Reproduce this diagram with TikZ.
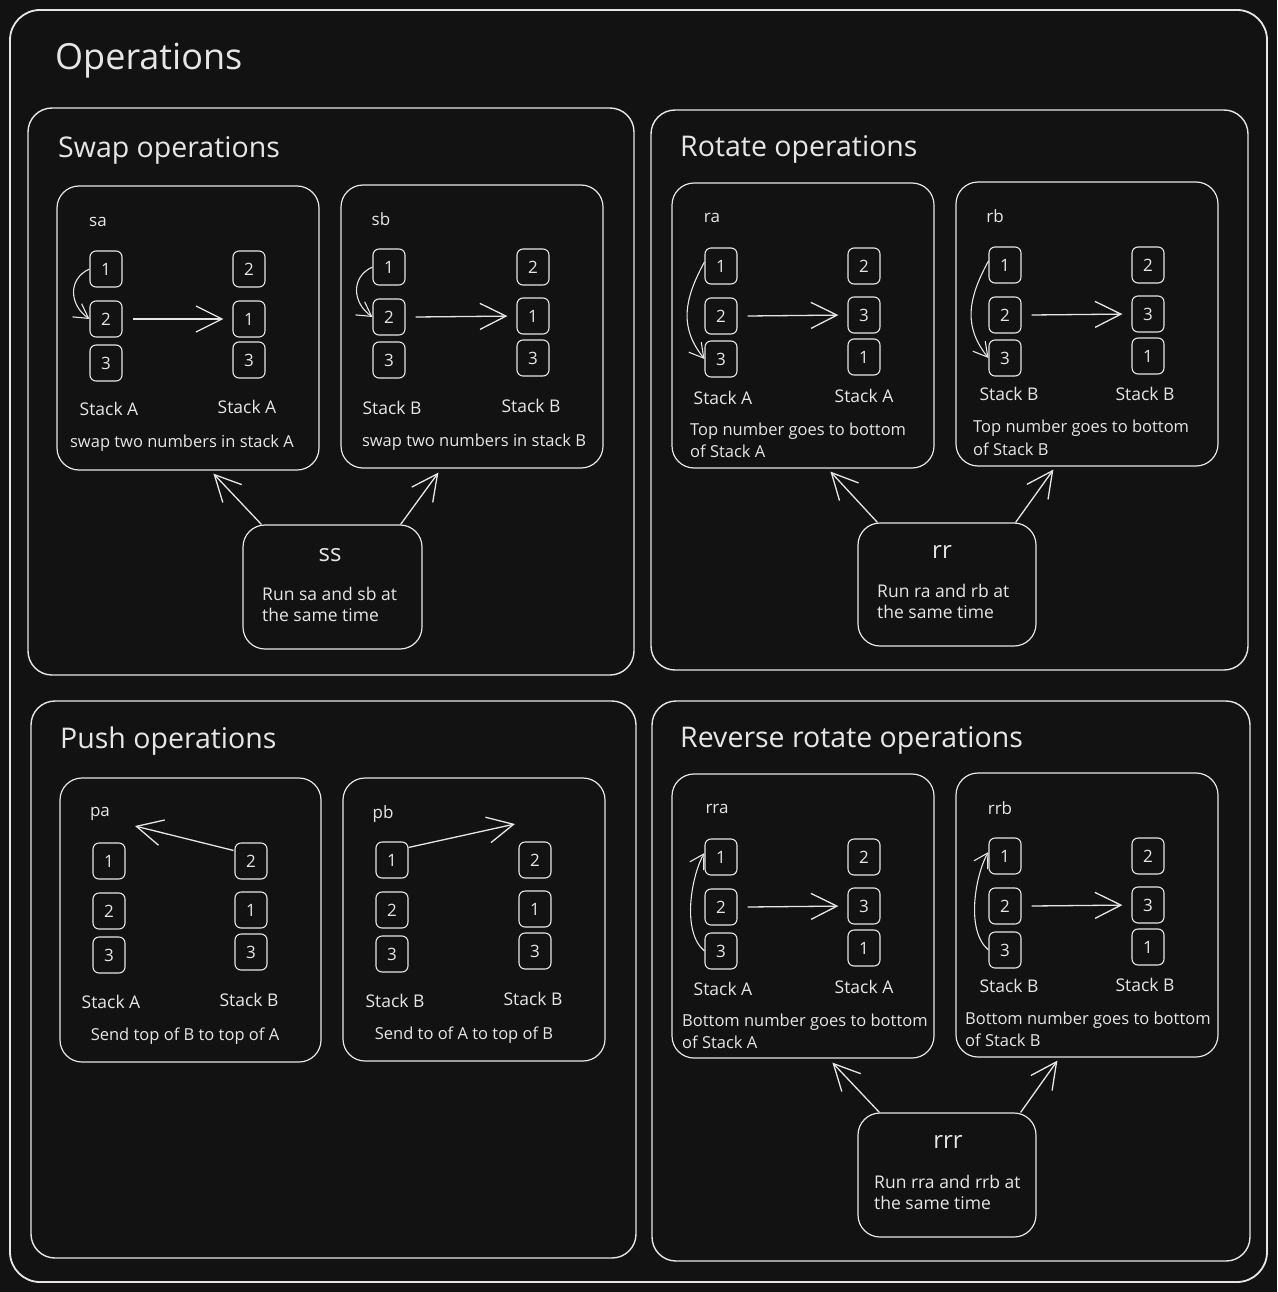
\documentclass[tikz,border=0pt]{standalone}
\usepackage{fontspec}
\setmainfont{Open Sans}
\usetikzlibrary{arrows.meta,calc}
\definecolor{bg}{HTML}{121212}
\definecolor{fg}{HTML}{E6E6E6}
\newcommand\mkbox[6]{\node[#6, minimum width={(#4-#2)*1pt}, minimum height={(#5-#3)*1pt}] (#1) at ({(#2+#4)/2},{(#3+#5)/2}) {};}
\newcommand\stk[4]{\node[numbox] (#1) at (#2,#3) {#4};}
\tikzset{
  frame/.style={draw=fg, line width=1.8pt, rounded corners=30pt},
  panel/.style={draw=fg, line width=1.4pt, rounded corners=24pt, inner sep=0pt},
  opbox/.style={draw=fg, line width=1.2pt, rounded corners=22pt, inner sep=0pt},
  numbox/.style={draw=fg, line width=1.1pt, rounded corners=6pt, minimum width=32pt, minimum height=36pt, inner sep=0pt, text=fg, font=\fontsize{17}{19}\selectfont},
  bigtitle/.style={anchor=west, text=fg, font=\fontsize{36}{40}\selectfont, inner sep=0pt},
  ptitle/.style={anchor=west, text=fg, font=\fontsize{28.5}{32}\selectfont, inner sep=0pt},
  lbl/.style={text=fg, font=\fontsize{16.5}{19}\selectfont, inner sep=0pt},
  stl/.style={text=fg, font=\fontsize{17.5}{20}\selectfont, inner sep=0pt},
  oplbl/.style={text=fg, font=\fontsize{17}{19}\selectfont, inner sep=0pt},
  oplarge/.style={text=fg, font=\fontsize{24}{28}\selectfont, inner sep=0pt},
  txtl/.style={anchor=west, text=fg, font=\fontsize{16.5}{19}\selectfont, inner sep=0pt},
  runl/.style={anchor=west, text=fg, font=\fontsize{17.5}{20}\selectfont, inner sep=0pt},
  arr/.style={draw=fg, line width=1.3pt, -{Straight Barb[length=26pt,width=26pt]}},
  carr/.style={draw=fg, line width=1.1pt, -{Straight Barb[length=14pt,width=16pt]}},
}
\begin{document}
\begin{tikzpicture}[x=1pt,y=-1pt]
\fill[bg] (0,0) rectangle (1277,1292);
\useasboundingbox (0,0) rectangle (1277,1292);
\draw[frame] (10,10) rectangle (1267,1282);
\node[bigtitle] (title) at (55,61) {Operations};

\mkbox{swapP}{28}{108}{634}{675}{panel}
\mkbox{rotP}{651}{110}{1248}{670}{panel}
\mkbox{pushP}{31}{701}{636}{1258}{panel}
\mkbox{revP}{652}{701}{1250}{1261}{panel}
\node[ptitle] (swapT) at (58,150) {Swap operations};
\node[ptitle] (rotT) at (680,149) {Rotate operations};
\node[ptitle] (pushT) at (60,741) {Push operations};
\node[ptitle] (revT) at (680,740) {Reverse rotate operations};

% ---------- sa
\mkbox{sa}{57}{186}{319}{470}{opbox}
\node[oplbl] (saN) at (98,222) {sa};
\stk{sa-l1}{106}{269}{1}\stk{sa-l2}{106}{319}{2}\stk{sa-l3}{106}{363}{3}
\stk{sa-r1}{249}{269}{2}\stk{sa-r2}{249}{319}{1}\stk{sa-r3}{249}{360}{3}
\node[stl] (sa-sl) at (109,409) {Stack A};
\node[stl] (sa-sr) at (247,407) {Stack A};
\node[lbl] (sa-c) at (182,443) {swap two numbers in stack A};
\draw[carr] (sa-l1.west) .. controls +(-22,10) and +(-20,-14) .. (sa-l2.west);
\draw[arr, shorten >=9pt] ([xshift=10pt]sa-l2.east) -- (sa-r2.west);

% ---------- sb
\mkbox{sb}{341}{185}{603}{468}{opbox}
\node[oplbl] (sbN) at (381,219) {sb};
\stk{sb-l1}{389}{267}{1}\stk{sb-l2}{389}{317}{2}\stk{sb-l3}{389}{360}{3}
\stk{sb-r1}{533}{267}{2}\stk{sb-r2}{533}{316}{1}\stk{sb-r3}{533}{358}{3}
\node[stl] (sb-sl) at (392,408) {Stack B};
\node[stl] (sb-sr) at (531,406) {Stack B};
\node[lbl] (sb-c) at (474,442) {swap two numbers in stack B};
\draw[carr] (sb-l1.west) .. controls +(-22,10) and +(-20,-14) .. (sb-l2.west);
\draw[arr, shorten >=9pt] ([xshift=10pt]sb-l2.east) -- (sb-r2.west);

% ---------- ss
\mkbox{ss}{243}{525}{422}{649}{opbox}
\node[oplarge] (ssN) at (330,555) {ss};
\node[runl] (ss-t1) at (262,594) {Run sa and sb at};
\node[runl] (ss-t2) at (262,615) {the same time};
\draw[arr] ([xshift=19pt]ss.north west) -- ([xshift=157pt,yshift=-3pt]sa.south west);
\draw[arr] ([xshift=-22pt]ss.north east) -- ([xshift=98pt,yshift=-4pt]sb.south west);

% ---------- ra
\mkbox{ra}{672}{183}{934}{468}{opbox}
\node[oplbl] (raN) at (712,218) {ra};
\stk{ra-l1}{721}{266}{1}\stk{ra-l2}{721}{316}{2}\stk{ra-l3}{721}{359}{3}
\stk{ra-r1}{864}{266}{2}\stk{ra-r2}{864}{315}{3}\stk{ra-r3}{864}{357}{1}
\node[stl] (ra-sl) at (723,398) {Stack A};
\node[stl] (ra-sr) at (864,396) {Stack A};
\node[txtl] (ra-c1) at (690,431) {Top number goes to bottom};
\node[txtl] (ra-c2) at (690,451) {of Stack A};
\draw[carr] ([yshift=4pt]ra-l1.west) .. controls +(-22,40) and +(-24,-30) .. (ra-l3.west);
\draw[arr, shorten >=9pt] ([xshift=10pt]ra-l2.east) -- (ra-r2.west);

% ---------- rb
\mkbox{rb}{956}{182}{1218}{466}{opbox}
\node[oplbl] (rbN) at (995,216) {rb};
\stk{rb-l1}{1005}{265}{1}\stk{rb-l2}{1005}{315}{2}\stk{rb-l3}{1005}{358}{3}
\stk{rb-r1}{1148}{265}{2}\stk{rb-r2}{1148}{314}{3}\stk{rb-r3}{1148}{356}{1}
\node[stl] (rb-sl) at (1009,394) {Stack B};
\node[stl] (rb-sr) at (1145,394) {Stack B};
\node[txtl] (rb-c1) at (973,428) {Top number goes to bottom};
\node[txtl] (rb-c2) at (973,449) {of Stack B};
\draw[carr] ([yshift=4pt]rb-l1.west) .. controls +(-22,40) and +(-24,-30) .. (rb-l3.west);
\draw[arr, shorten >=9pt] ([xshift=10pt]rb-l2.east) -- (rb-r2.west);

% ---------- rr
\mkbox{rr}{858}{523}{1036}{646}{opbox}
\node[oplarge] (rrN) at (942,552) {rr};
\node[runl] (rr-t1) at (877,591) {Run ra and rb at};
\node[runl] (rr-t2) at (877,612) {the same time};
\draw[arr] ([xshift=20pt]rr.north west) -- ([xshift=159pt,yshift=-3pt]ra.south west);
\draw[arr] ([xshift=-21pt]rr.north east) -- ([xshift=98pt,yshift=-3pt]rb.south west);

% ---------- pa
\mkbox{pa}{60}{778}{321}{1062}{opbox}
\node[oplbl] (paN) at (100,814) {pa};
\stk{pa-l1}{109}{861}{1}\stk{pa-l2}{109}{911}{2}\stk{pa-l3}{109}{955}{3}
\stk{pa-r1}{251}{861}{2}\stk{pa-r2}{251}{910}{1}\stk{pa-r3}{251}{952}{3}
\node[stl] (pa-sl) at (111,1002) {Stack A};
\node[stl] (pa-sr) at (249,1000) {Stack B};
\node[lbl] (pa-c) at (185,1036) {Send top of B to top of A};
\coordinate (pa-tip) at (135,826);
\draw[arr] ([xshift=-1pt,yshift=-8pt]pa-r1.north west) -- (pa-tip);

% ---------- pb
\mkbox{pb}{343}{778}{605}{1061}{opbox}
\node[oplbl] (pbN) at (383,814) {pb};
\stk{pb-l1}{392}{860}{1}\stk{pb-l2}{392}{910}{2}\stk{pb-l3}{392}{954}{3}
\stk{pb-r1}{535}{860}{2}\stk{pb-r2}{535}{909}{1}\stk{pb-r3}{535}{951}{3}
\node[stl] (pb-sl) at (395,1001) {Stack B};
\node[stl] (pb-sr) at (533,999) {Stack B};
\node[lbl] (pb-c) at (464,1035) {Send to of A to top of B};
\coordinate (pb-tip) at (515,824);
\draw[arr] ([yshift=-6pt]pb-l1.north east) -- (pb-tip);

% ---------- rra
\mkbox{rra}{672}{774}{934}{1058}{opbox}
\node[oplbl] (rraN) at (717,809) {rra};
\stk{rra-l1}{721}{857}{1}\stk{rra-l2}{721}{907}{2}\stk{rra-l3}{721}{951}{3}
\stk{rra-r1}{864}{857}{2}\stk{rra-r2}{864}{906}{3}\stk{rra-r3}{864}{948}{1}
\node[stl] (rra-sl) at (723,989) {Stack A};
\node[stl] (rra-sr) at (864,987) {Stack A};
\node[txtl] (rra-c1) at (682,1022) {Bottom number goes to bottom};
\node[txtl] (rra-c2) at (682,1042) {of Stack A};
\draw[carr] (rra-l3.west) .. controls +(-24,-20) and +(-12,20) .. ([yshift=4pt]rra-l1.west);
\draw[arr, shorten >=9pt] ([xshift=10pt]rra-l2.east) -- (rra-r2.west);

% ---------- rrb
\mkbox{rrb}{956}{773}{1218}{1057}{opbox}
\node[oplbl] (rrbN) at (1000,808) {rrb};
\stk{rrb-l1}{1005}{856}{1}\stk{rrb-l2}{1005}{906}{2}\stk{rrb-l3}{1005}{950}{3}
\stk{rrb-r1}{1148}{856}{2}\stk{rrb-r2}{1148}{905}{3}\stk{rrb-r3}{1148}{947}{1}
\node[stl] (rrb-sl) at (1009,986) {Stack B};
\node[stl] (rrb-sr) at (1145,985) {Stack B};
\node[txtl] (rrb-c1) at (965,1020) {Bottom number goes to bottom};
\node[txtl] (rrb-c2) at (965,1040) {of Stack B};
\draw[carr] (rrb-l3.west) .. controls +(-24,-20) and +(-12,20) .. ([yshift=4pt]rrb-l1.west);
\draw[arr, shorten >=9pt] ([xshift=10pt]rrb-l2.east) -- (rrb-r2.west);

% ---------- rrr
\mkbox{rrr}{858}{1113}{1036}{1237}{opbox}
\node[oplarge] (rrrN) at (948,1142) {rrr};
\node[runl] (rrr-t1) at (874,1182) {Run rra and rrb at};
\node[runl] (rrr-t2) at (874,1203) {the same time};
\draw[arr] ([xshift=22pt]rrr.north west) -- ([xshift=161pt,yshift=-4pt]rra.south west);
\draw[arr] ([xshift=-16pt]rrr.north east) -- ([xshift=102pt,yshift=-3pt]rrb.south west);
\end{tikzpicture}
\end{document}
